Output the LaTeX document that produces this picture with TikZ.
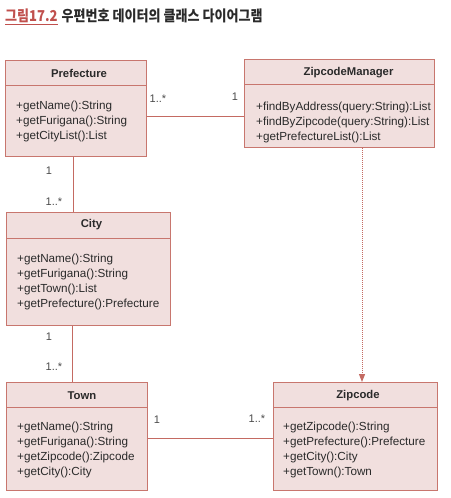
\documentclass[tikz,border=0pt]{standalone}
\usepackage{fontspec}
\setmainfont{Liberation Sans}
\newfontfamily\krfont[FakeStretch=0.87]{Noto Sans CJK KR}
\usetikzlibrary{arrows.meta,calc}
\definecolor{boxborder}{HTML}{C8766E}
\definecolor{boxfill}{HTML}{F1DFDE}
\definecolor{linecol}{HTML}{C46A62}
\definecolor{titlered}{HTML}{C0504D}
\definecolor{txt}{HTML}{2A2A2A}
\begin{document}
\begin{tikzpicture}[x=1pt,y=-1pt,
  cls/.style={draw=boxborder,fill=boxfill,line width=0.9pt,rectangle,inner sep=0pt,anchor=north west},
  divider/.style={draw=boxborder,line width=0.9pt},
  hdr/.style={font=\fontsize{11.3}{13}\selectfont\bfseries,text=txt,inner sep=0pt},
  meth/.style={font=\fontsize{11.7}{15}\selectfont,text=txt,align=left,anchor=west,inner sep=0pt},
  mult/.style={font=\fontsize{11}{13}\selectfont,text=txt!85,inner sep=0pt},
  assoc/.style={draw=linecol,line width=0.9pt},
  dep/.style={draw=linecol,line width=1pt,dash pattern=on 1pt off 1pt,-{Triangle[width=6pt,length=8pt]}}]
\useasboundingbox (0,0) rectangle (450,498);

% title
\node[anchor=west,inner sep=0pt,font=\krfont\fontsize{15}{17}\selectfont\bfseries] (title) at (5,16.5)
  {\textcolor{titlered}{\underline{그림17.2}}\hspace{4pt}\textcolor{txt}{우편번호 데이터의 클래스 다이어그램}};

% classes
\node[cls,minimum width=141pt,minimum height=96pt] (pref) at (5,60) {};
\draw[divider] ([yshift=-25pt]pref.north west) -- ([yshift=-25pt]pref.north east);
\node[hdr] (prefh) at ($(pref.north west)+(74,13)$) {Prefecture};
\node[meth] (prefm) at ($(pref.north west)+(11,61)$) {+getName():String\\+getFurigana():String\\+getCityList():List};

\node[cls,minimum width=190pt,minimum height=88pt] (zm) at (244,59) {};
\draw[divider] ([yshift=-25pt]zm.north west) -- ([yshift=-25pt]zm.north east);
\node[hdr] (zmh) at ($(zm.north west)+(104.5,14)$) {ZipcodeManager};
\node[meth] (zmm) at ($(zm.north west)+(12,63)$) {+findByAddress(query:String):List\\+findByZipcode(query:String):List\\+getPrefectureList():List};

\node[cls,minimum width=164pt,minimum height=113pt] (city) at (6,212) {};
\draw[divider] ([yshift=-26pt]city.north west) -- ([yshift=-26pt]city.north east);
\node[hdr] (cityh) at ($(city.north west)+(85.5,13)$) {City};
\node[meth] (citym) at ($(city.north west)+(11,69.5)$) {+getName():String\\+getFurigana():String\\+getTown():List\\+getPrefecture():Prefecture};

\node[cls,minimum width=141pt,minimum height=108pt] (town) at (6,382) {};
\draw[divider] ([yshift=-25pt]town.north west) -- ([yshift=-25pt]town.north east);
\node[hdr] (townh) at ($(town.north west)+(76,14)$) {Town};
\node[meth] (townm) at ($(town.north west)+(11,68)$) {+getName():String\\+getFurigana():String\\+getZipcode():Zipcode\\+getCity():City};

\node[cls,minimum width=164pt,minimum height=108pt] (zip) at (273,382) {};
\draw[divider] ([yshift=-25pt]zip.north west) -- ([yshift=-25pt]zip.north east);
\node[hdr] (ziph) at ($(zip.north west)+(85,14)$) {Zipcode};
\node[meth] (zipm) at ($(zip.north west)+(10,67.5)$) {+getZipcode():String\\+getPrefecture():Prefecture\\+getCity():City\\+getTown():Town};

% connectors
\coordinate (a1) at ([yshift=-56pt]pref.north east);
\draw[assoc] (a1) -- (a1 -| zm.west);
\coordinate (b1) at ([xshift=68pt]pref.south west);
\draw[assoc] (b1) -- (b1 |- city.north);
\coordinate (c1) at ([xshift=66pt]city.south west);
\draw[assoc] (c1) -- (c1 |- town.north);
\coordinate (d1) at ([yshift=-56pt]town.north east);
\draw[assoc] (d1) -- (d1 -| zip.west);
\coordinate (e1) at ([xshift=118pt]zm.south west);
\draw[dep] (e1) -- (e1 |- zip.north);

% multiplicities
\node[mult] (m1) at (158,99) {1..*};
\node[mult] (m2) at (235,97) {1};
\node[mult] (m3) at (49,171) {1};
\node[mult] (m4) at (54,202) {1..*};
\node[mult] (m5) at (49,337) {1};
\node[mult] (m6) at (54,367) {1..*};
\node[mult] (m7) at (157,420) {1};
\node[mult] (m8) at (257,419) {1..*};
\end{tikzpicture}
\end{document}
